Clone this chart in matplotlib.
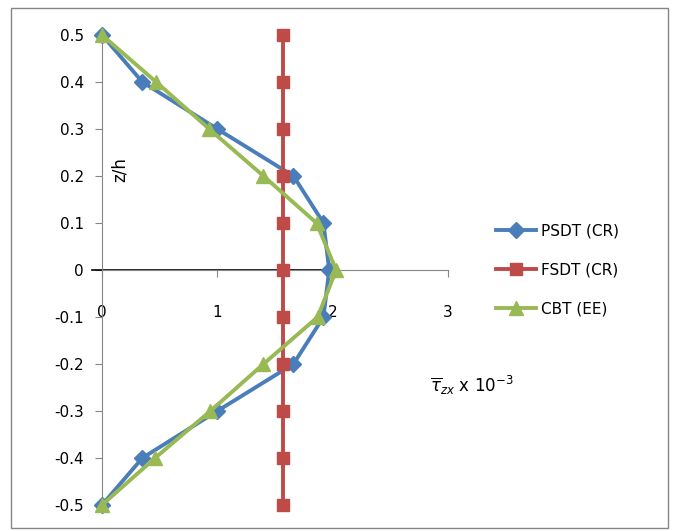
import matplotlib
matplotlib.use("Agg")
import matplotlib.pyplot as plt
from matplotlib.patches import Rectangle

# through-thickness coordinate z/h
z = [0.5, 0.4, 0.3, 0.2, 0.1, 0.0, -0.1, -0.2, -0.3, -0.4, -0.5]

# transverse shear stress (x 10^-3)
psdt = [0.0, 0.35, 1.0, 1.66, 1.92, 1.97, 1.92, 1.66, 1.0, 0.35, 0.0]
fsdt = [1.57] * 11
cbt = [0.0, 0.47, 0.93, 1.40, 1.86, 2.03, 1.87, 1.40, 0.94, 0.46, 0.0]

x_ticks = [0, 1, 2, 3]
y_ticks = [0.5, 0.4, 0.3, 0.2, 0.1, 0, -0.1, -0.2, -0.3, -0.4, -0.5]

fig = plt.figure(figsize=(6.79, 5.31), dpi=100)
ax = fig.add_axes([102 / 679, 1 - 505 / 531, 346 / 679, 470 / 531])

ax.plot(psdt, z, color="#4a7ebb", lw=2.8, marker="D", ms=8, label="PSDT (CR)", clip_on=False, zorder=3)
ax.plot(fsdt, z, color="#be4b48", lw=2.8, marker="s", ms=9, label="FSDT (CR)", clip_on=False, zorder=3)
ax.plot(cbt, z, color="#98b954", lw=2.8, marker="^", ms=10, label="CBT (EE)", clip_on=False, zorder=4)

ax.set_xlim(0, 3)
ax.set_ylim(-0.5, 0.5)

# axes cross at the origin
ax.spines["left"].set_position(("data", 0))
ax.spines["bottom"].set_position(("data", 0))
ax.spines["top"].set_visible(False)
ax.spines["right"].set_visible(False)
for s in ["left", "bottom"]:
    ax.spines[s].set_color("#868686")
ax.axhline(0, xmin=-0.03, xmax=2 / 3, color="black", lw=1.2, zorder=2, clip_on=False)

ax.set_xticks(x_ticks)
ax.set_xticklabels(["0", "1", "2", "3"])
ax.set_yticks(y_ticks)
ax.set_yticklabels([f"{v:g}" for v in y_ticks])
ax.tick_params(axis="x", direction="out", length=5, color="#868686", pad=20, labelsize=11)
ax.tick_params(axis="y", direction="out", length=5, color="#868686", pad=8, labelsize=11)

ax.text(0.052, 0.713, "z/h", transform=ax.transAxes, rotation=90,
        fontsize=12, ha="center", va="center")
ax.text(1.07, 0.255, r"$\overline{\tau}_{zx}$ x 10$^{-3}$", transform=ax.transAxes,
        fontsize=12, ha="center", va="center")

ax.legend(loc="center left", bbox_to_anchor=(1.1, 0.5), frameon=False,
          fontsize=11, handlelength=2.6, labelspacing=1.55, handletextpad=0.3)

fig.patches.append(Rectangle((11 / 679, 3 / 531), 657 / 679, 520 / 531,
                             transform=fig.transFigure, fill=False,
                             edgecolor="#868686", lw=1))

fig.savefig("out.png", dpi=100)
